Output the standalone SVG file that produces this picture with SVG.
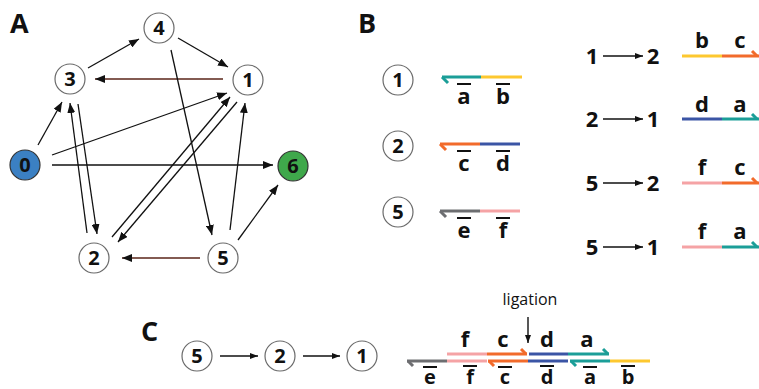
<svg xmlns="http://www.w3.org/2000/svg" width="759" height="389" viewBox="0 0 759 389">
<defs>
<marker id="ah" markerUnits="userSpaceOnUse" markerWidth="10" markerHeight="8" refX="10" refY="4" orient="auto"><path d="M0,0 L10,4 L0,8 z" fill="#111"/></marker>
<marker id="sa" markerUnits="userSpaceOnUse" markerWidth="8" markerHeight="6" refX="8" refY="3" orient="auto"><path d="M0,0 L8,3 L0,6 z" fill="#111"/></marker>
</defs>
<style>
.n{fill:#fff;stroke:#6a6a6a;stroke-width:1.2}
.t{font-family:"Open Sans","Liberation Sans",sans-serif;font-weight:bold;font-size:20px;fill:#111;text-anchor:middle}
.p{font-family:"Open Sans","Liberation Sans",sans-serif;font-weight:bold;font-size:27px;fill:#111}
.l{font-family:"Open Sans","Liberation Sans",sans-serif;font-weight:bold;font-size:22px;fill:#111;text-anchor:middle}
.lb{font-family:"Open Sans","Liberation Sans",sans-serif;font-weight:bold;font-size:20px;fill:#111;text-anchor:middle}
.d{font-family:"Open Sans","Liberation Sans",sans-serif;font-weight:bold;font-size:22px;fill:#111;text-anchor:middle}
.r{font-family:"Open Sans","Liberation Sans",sans-serif;font-size:16px;fill:#111;text-anchor:middle}
.e{stroke:#111;stroke-width:1.3;fill:none;marker-end:url(#ah)}
.eb{stroke:#5a2418;stroke-width:1.3;fill:none;marker-end:url(#ah)}
.s{stroke:#111;stroke-width:1.4;fill:none;marker-end:url(#sa)}
.ob{stroke:#111;stroke-width:2}
.st{stroke-width:3;fill:none;stroke-linecap:butt}
.teal{stroke:#1b9e98}.yel{stroke:#fdc82f}.ora{stroke:#f26b2b}.blu{stroke:#3b55a5}.gry{stroke:#6d6e71}.pnk{stroke:#f5a3a5}
</style>

<text class="p" x="10" y="33">A</text>
<text class="p" x="358" y="33">B</text>
<text class="p" x="141" y="341">C</text>

<g id="edges">
<line class="e" x1="88" y1="68" x2="139" y2="39"/>
<line class="e" x1="178" y1="38" x2="228" y2="67"/>
<line class="eb" x1="223" y1="79" x2="95" y2="79"/>
<line class="e" x1="38" y1="145" x2="62" y2="102"/>
<line class="e" x1="52" y1="155" x2="227" y2="93"/>
<line class="e" x1="52" y1="165" x2="273" y2="165"/>
<line class="e" x1="78" y1="104" x2="97" y2="234"/>
<line class="e" x1="87" y1="233" x2="70" y2="103"/>
<line class="e" x1="112" y1="237" x2="230" y2="97"/>
<line class="e" x1="237" y1="102" x2="118" y2="242"/>
<line class="e" x1="171" y1="50" x2="212" y2="235"/>
<line class="e" x1="230" y1="230" x2="245" y2="103"/>
<line class="e" x1="238" y1="240" x2="278" y2="185"/>
<line class="eb" x1="200" y1="258" x2="122" y2="258"/>
</g>

<g id="node0"><circle cx="25" cy="165" r="15" fill="#3b80c3" stroke="#333" stroke-width="1.2"/><text class="t" x="25" y="172">0</text></g>
<g id="node1"><circle class="n" cx="248" cy="80" r="15"/><text class="t" x="248" y="87">1</text></g>
<g id="node2"><circle class="n" cx="94" cy="258" r="15"/><text class="t" x="94" y="265">2</text></g>
<g id="node3"><circle class="n" cx="70" cy="79" r="15"/><text class="t" x="70" y="86">3</text></g>
<g id="node4"><circle class="n" cx="159" cy="28" r="15"/><text class="t" x="159" y="35">4</text></g>
<g id="node5"><circle class="n" cx="223" cy="258" r="15"/><text class="t" x="223" y="265">5</text></g>
<g id="node6"><circle cx="293" cy="166" r="15" fill="#3fa84b" stroke="#333" stroke-width="1.2"/><text class="t" x="293" y="173">6</text></g>

<g id="b1">
<circle class="n" cx="398" cy="80" r="15"/><text class="t" x="398" y="87">1</text>
<line class="st teal" x1="442" y1="77" x2="481" y2="77"/><line class="st yel" x1="481" y1="77" x2="522" y2="77"/>
<line class="st teal" x1="442" y1="77" x2="448" y2="83"/>
<text class="l" x="464" y="104">a</text><line class="ob" x1="457" y1="84" x2="471" y2="84"/>
<text class="l" x="503" y="104">b</text><line class="ob" x1="496" y1="84" x2="510" y2="84"/>
</g>
<g id="b2">
<circle class="n" cx="398" cy="146" r="15"/><text class="t" x="398" y="153">2</text>
<line class="st ora" x1="440" y1="144" x2="480" y2="144"/><line class="st blu" x1="480" y1="144" x2="520" y2="144"/>
<line class="st ora" x1="440" y1="144" x2="446" y2="150"/>
<text class="l" x="464" y="171">c</text><line class="ob" x1="457" y1="151" x2="471" y2="151"/>
<text class="l" x="503" y="171">d</text><line class="ob" x1="496" y1="151" x2="510" y2="151"/>
</g>
<g id="b5">
<circle class="n" cx="398" cy="212" r="15"/><text class="t" x="398" y="219">5</text>
<line class="st gry" x1="440" y1="211" x2="480" y2="211"/><line class="st pnk" x1="480" y1="211" x2="520" y2="211"/>
<line class="st gry" x1="440" y1="211" x2="446" y2="217"/>
<text class="l" x="464" y="238">e</text><line class="ob" x1="457" y1="218" x2="471" y2="218"/>
<text class="l" x="503" y="238">f</text><line class="ob" x1="496" y1="218" x2="510" y2="218"/>
</g>

<g id="r12">
<text class="d" x="592" y="64">1</text><line class="s" x1="603" y1="56" x2="643" y2="56"/><text class="d" x="653" y="64">2</text>
<line class="st yel" x1="682" y1="56" x2="722" y2="56"/><line class="st ora" x1="722" y1="56" x2="760" y2="56"/>
<line class="st ora" x1="757" y1="56" x2="752" y2="51"/>
<text class="l" x="702" y="48">b</text><text class="l" x="740" y="48">c</text>
</g>
<g id="r21">
<text class="d" x="592" y="127">2</text><line class="s" x1="603" y1="119" x2="643" y2="119"/><text class="d" x="653" y="127">1</text>
<line class="st blu" x1="682" y1="119" x2="722" y2="119"/><line class="st teal" x1="722" y1="119" x2="760" y2="119"/>
<line class="st teal" x1="757" y1="119" x2="752" y2="114"/>
<text class="l" x="702" y="112">d</text><text class="l" x="740" y="112">a</text>
</g>
<g id="r52">
<text class="d" x="592" y="191">5</text><line class="s" x1="603" y1="183" x2="643" y2="183"/><text class="d" x="653" y="191">2</text>
<line class="st pnk" x1="682" y1="183" x2="722" y2="183"/><line class="st ora" x1="722" y1="183" x2="760" y2="183"/>
<line class="st ora" x1="757" y1="183" x2="752" y2="178"/>
<text class="l" x="702" y="175">f</text><text class="l" x="740" y="175">c</text>
</g>
<g id="r51">
<text class="d" x="592" y="255">5</text><line class="s" x1="603" y1="247" x2="643" y2="247"/><text class="d" x="653" y="255">1</text>
<line class="st pnk" x1="682" y1="247" x2="722" y2="247"/><line class="st teal" x1="722" y1="247" x2="760" y2="247"/>
<line class="st teal" x1="757" y1="247" x2="752" y2="242"/>
<text class="l" x="702" y="239">f</text><text class="l" x="740" y="239">a</text>
</g>

<g id="c5"><circle class="n" cx="197" cy="356" r="15"/><text class="t" x="197" y="363">5</text></g>
<g id="c2"><circle class="n" cx="280" cy="356" r="15"/><text class="t" x="280" y="363">2</text></g>
<g id="c1"><circle class="n" cx="362" cy="356" r="15"/><text class="t" x="362" y="363">1</text></g>
<g id="cconn">
<line class="s" x1="220" y1="356" x2="258" y2="356"/>
<line class="s" x1="303" y1="356" x2="340" y2="356"/>
</g>

<g id="ligation">
<text class="r" x="530" y="305">ligation</text>
<line class="s" x1="528" y1="317" x2="528" y2="343"/>
<line class="st pnk" x1="447" y1="354" x2="487" y2="354"/><line class="st ora" x1="487" y1="354" x2="527" y2="354"/>
<line class="st ora" x1="526" y1="354" x2="521" y2="349"/>
<line class="st blu" x1="529" y1="354" x2="568" y2="354"/><line class="st teal" x1="568" y1="354" x2="609" y2="354"/>
<line class="st teal" x1="608" y1="354" x2="603" y2="349"/>
<line class="st gry" x1="407" y1="361" x2="447" y2="361"/><line class="st pnk" x1="447" y1="361" x2="487" y2="361"/>
<line class="st gry" x1="408" y1="361" x2="413" y2="366"/>
<line class="st ora" x1="488" y1="361" x2="528" y2="361"/><line class="st blu" x1="528" y1="361" x2="568" y2="361"/>
<line class="st ora" x1="489" y1="361" x2="494" y2="366"/>
<line class="st teal" x1="570" y1="361" x2="610" y2="361"/><line class="st yel" x1="610" y1="361" x2="650" y2="361"/>
<line class="st teal" x1="571" y1="361" x2="576" y2="366"/>
<text class="l" x="465" y="347">f</text><text class="l" x="503" y="347">c</text><text class="l" x="547" y="347">d</text><text class="l" x="587" y="347">a</text>
<text class="lb" x="430" y="384">e</text><line class="ob" x1="423" y1="367" x2="437" y2="367"/>
<text class="lb" x="470" y="384">f</text><line class="ob" x1="463" y1="366" x2="477" y2="366"/>
<text class="lb" x="505" y="384">c</text><line class="ob" x1="498" y1="367" x2="512" y2="367"/>
<text class="lb" x="547" y="384">d</text><line class="ob" x1="540" y1="366" x2="554" y2="366"/>
<text class="lb" x="590" y="384">a</text><line class="ob" x1="583" y1="367" x2="597" y2="367"/>
<text class="lb" x="628" y="384">b</text><line class="ob" x1="621" y1="366" x2="635" y2="366"/>
</g>
</svg>
